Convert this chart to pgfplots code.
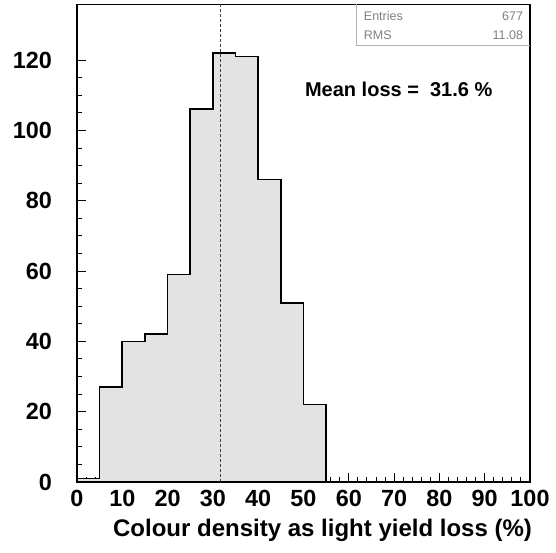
\documentclass[border=0pt]{standalone}
\usepackage{pgfplots}
\pgfplotsset{compat=1.18}
\usepackage{fontspec}
\setmainfont{Liberation Sans}
\begin{document}
\begin{tikzpicture}
\begin{axis}[
  name=ax,
  scale only axis,
  width=453pt, height=477.5pt,
  xmin=0, xmax=100, ymin=0, ymax=135.8,
  xtick={0,10,...,100}, ytick={0,20,...,120},
  minor x tick num=4, minor y tick num=3,
  tick align=inside,
  xtick pos=bottom, ytick pos=left,
  major tick length=9pt, minor tick length=5pt,
  axis line style={line width=1.8pt},
  every tick/.style={black, line width=0.9pt},
  /pgf/number format/assume math mode=true,
  tick label style={font=\fontsize{23.4}{28}\selectfont\bfseries, inner sep=0pt},
  xticklabel style={anchor=center, yshift=-16pt},
  yticklabel style={anchor=east, xshift=-25pt},
  clip=false,
]
\addplot[const plot mark left, fill=gray!22, draw=black, line width=1.7pt]
  coordinates {(0,1) (5,27) (10,40) (15,42) (20,59) (25,106) (30,122) (35,121) (40,86) (45,51) (50,22) (55,0) (100,0)} \closedcycle;
\addplot[dash pattern=on 3pt off 2pt, black!75, line width=0.9pt] coordinates {(31.6,0) (31.6,135.8)};
\node[anchor=west, inner sep=0pt, font=\fontsize{20}{24}\selectfont\bfseries] at (axis cs:50.3,111.6) {Mean loss =\ \ 31.6 \%};
\draw[gray!60, line width=0.8pt] (axis cs:61.6,135.8) -- (axis cs:61.6,124.2) -- (axis cs:100,124.2);
\node[anchor=west, inner sep=0pt, font=\fontsize{12.5}{14}\selectfont, gray] at (axis cs:63.3,132.4) {Entries};
\node[anchor=east, inner sep=0pt, font=\fontsize{12.5}{14}\selectfont, gray] at (axis cs:98.5,132.4) {677};
\node[anchor=west, inner sep=0pt, font=\fontsize{12.5}{14}\selectfont, gray] at (axis cs:63.3,127.0) {RMS};
\node[anchor=east, inner sep=0pt, font=\fontsize{12.5}{14}\selectfont, gray] at (axis cs:98.5,127.0) {11.08};
\end{axis}
\node[inner sep=0pt, font=\fontsize{24}{28}\selectfont\bfseries] at ([shift={(245.5pt,-48pt)}]ax.south west) {Colour density as light yield loss (\%)};
\pgfresetboundingbox
\path ([shift={(-77pt,-70pt)}]ax.south west) rectangle ([shift={(26pt,4.5pt)}]ax.north east);
\end{tikzpicture}
\end{document}
